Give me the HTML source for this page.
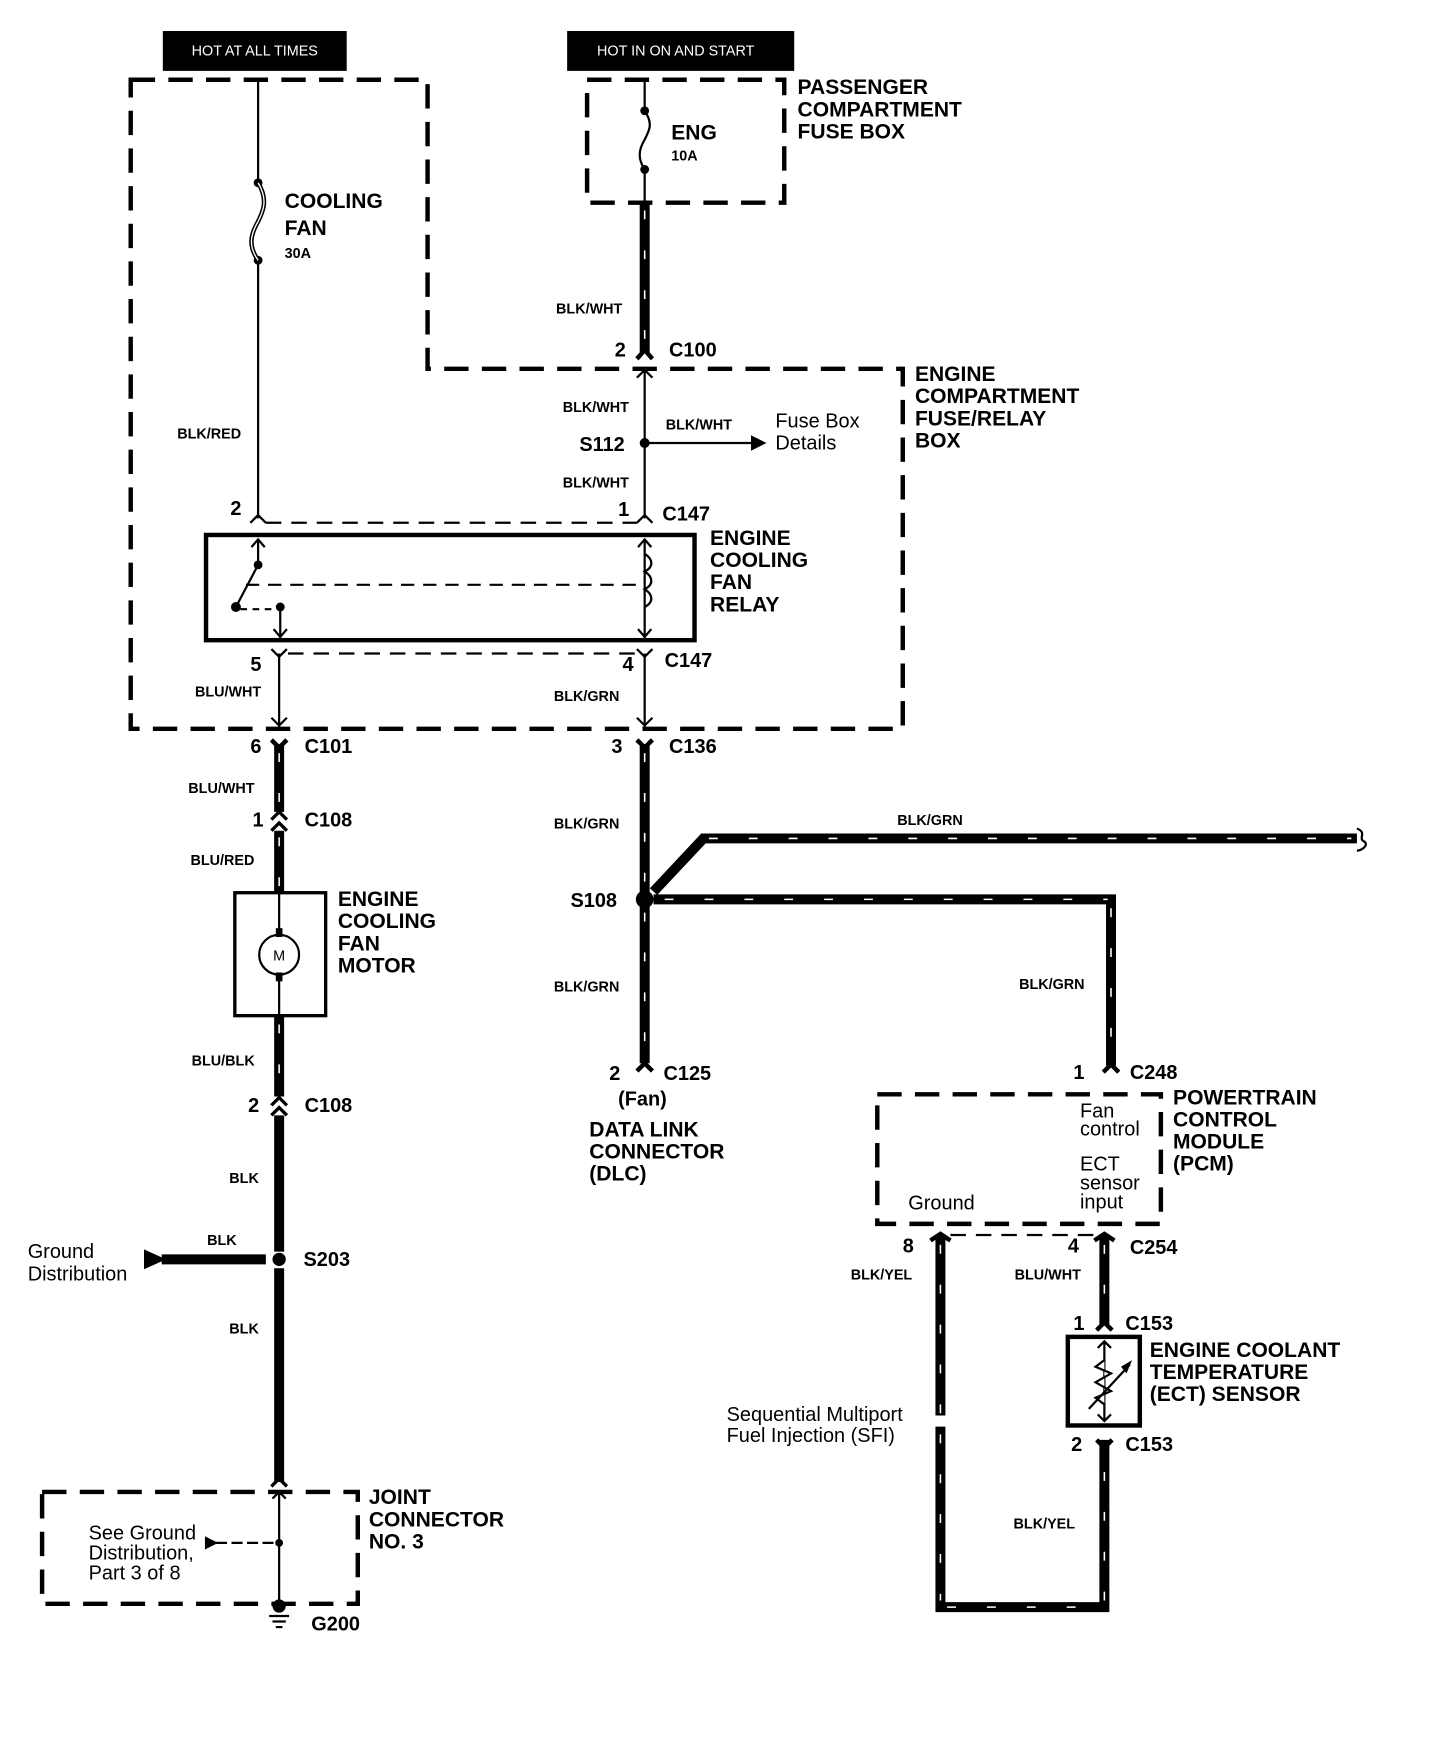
<!DOCTYPE html>
<html><head><meta charset="utf-8"><style>
html,body{margin:0;padding:0;background:#fff;}
svg{display:block;}
text{font-family:"Liberation Sans",Arial,sans-serif;fill:#000;}
.b{font-weight:bold;}
.t{font-size:19px;font-weight:bold;}
.w{font-size:13px;font-weight:bold;}
.n{font-size:18px;font-weight:bold;}
.r{font-size:18px;}
.dash{fill:none;stroke:#000;stroke-width:4;stroke-dasharray:22 12;}
.dl{fill:none;stroke:#000;stroke-width:2;stroke-dasharray:14 9;}
.thin{fill:none;stroke:#000;stroke-width:2;}
.tw{fill:none;stroke:#000;stroke-width:9;}
.twd{fill:none;stroke:#fff;stroke-width:1.4;stroke-dasharray:8 28;}
</style></head><body>
<svg width="1440" height="1750" viewBox="0 0 1300 1580" preserveAspectRatio="none" xmlns="http://www.w3.org/2000/svg">
<!-- power labels -->
<rect x="147" y="28" width="166" height="36" fill="#000"/>
<text x="230" y="50" font-size="13" text-anchor="middle" style="fill:#fff">HOT AT ALL TIMES</text>
<rect x="512" y="28" width="205" height="36" fill="#000"/>
<text x="610" y="50" font-size="13" text-anchor="middle" style="fill:#fff">HOT IN ON AND START</text>

<!-- big dashed box -->
<path class="dash" d="M118 72 H386 V333 H815 V658 H118 Z"/>
<!-- passenger box -->
<path class="dash" d="M530 72 H708 V183 H530 Z"/>
<text class="t" x="720" y="85">PASSENGER</text>
<text class="t" x="720" y="105">COMPARTMENT</text>
<text class="t" x="720" y="125">FUSE BOX</text>
<text class="t" x="826" y="344">ENGINE</text>
<text class="t" x="826" y="364">COMPARTMENT</text>
<text class="t" x="826" y="384">FUSE/RELAY</text>
<text class="t" x="826" y="404">BOX</text>

<!-- cooling fan fuse wire -->
<path class="thin" d="M233 72 V165 M233 235 V468"/>
<circle cx="233" cy="165" r="4"/><circle cx="233" cy="235" r="4"/>
<path d="M233 165 C242 180 238 190 233 200 C226 212 224 222 233 235" fill="none" stroke="#000" stroke-width="4"/>
<path d="M233 165 C242 180 238 190 233 200 C226 212 224 222 233 235" fill="none" stroke="#fff" stroke-width="1.2"/>
<text class="t" x="257" y="188">COOLING</text>
<text class="t" x="257" y="212">FAN</text>
<text class="w" x="257" y="233">30A</text>
<text class="w" x="160" y="396">BLK/RED</text>

<!-- ENG fuse -->
<path class="thin" d="M582 72 V100 M582 153 V183"/>
<circle cx="582" cy="100" r="4"/><circle cx="582" cy="153" r="4"/>
<path d="M582 100 C590 112 586 118 582 126 C576 136 576 144 582 153" class="thin"/>
<text class="t" x="606" y="126">ENG</text>
<text class="w" x="606" y="145">10A</text>
<path class="tw" d="M582 183 V318"/><path class="twd" d="M582 190 V318"/>
<text class="w" x="502" y="283">BLK/WHT</text>
<path d="M575 324 L582 316 L589 324" fill="none" stroke="#000" stroke-width="4"/>
<text class="n" x="555" y="322">2</text><text class="n" x="604" y="322">C100</text>
<path class="thin" d="M582 333 V468"/>
<path d="M575 341 L582 334 L589 341" class="thin"/>
<text class="w" x="508" y="372">BLK/WHT</text>
<circle cx="582" cy="400" r="4.5"/>
<text class="n" x="523" y="407">S112</text>
<path class="thin" d="M582 400 H680"/><path d="M678 393 L692 400 L678 407 Z"/>
<text class="w" x="601" y="388">BLK/WHT</text>
<text class="r" x="700" y="386">Fuse Box</text>
<text class="r" x="700" y="406">Details</text>
<text class="w" x="508" y="440">BLK/WHT</text>

<!-- C147 top -->
<text class="n" x="208" y="465">2</text><text class="n" x="558" y="466">1</text><text class="n" x="598" y="470">C147</text>
<path d="M226 472 L233 465 L240 472" class="thin"/><path d="M575 472 L582 465 L589 472" class="thin"/>
<path class="dl" d="M240 472 H575"/>

<!-- relay box -->
<rect x="186" y="483" width="441" height="95" fill="none" stroke="#000" stroke-width="4"/>
<text class="t" x="641" y="492">ENGINE</text>
<text class="t" x="641" y="512">COOLING</text>
<text class="t" x="641" y="532">FAN</text>
<text class="t" x="641" y="552">RELAY</text>
<path class="thin" d="M233 488 V510 L213 548"/>
<path d="M227 494 L233 487 L239 494" class="thin"/>
<circle cx="233" cy="510" r="4"/><circle cx="213" cy="548" r="4.5"/><circle cx="253" cy="548" r="4"/>
<path class="dl" d="M222 528 H580" style="stroke-dasharray:12 8"/>
<path class="dl" d="M217 550 H250" style="stroke-dasharray:6 5"/>
<path class="thin" d="M253 548 V576 M247 568 L253 575 L259 568"/>
<path class="thin" d="M582 488 V576 M576 494 L582 487 L588 494 M576 568 L582 575 L588 568"/>
<path d="M582 500 C590 505 590 512 582 516 C590 521 590 528 582 532 C590 537 590 544 582 548" class="thin"/>

<!-- C147 bottom -->
<path class="dl" d="M260 590 H574"/>
<path d="M245 586 L252 593 L259 586" class="thin"/><path d="M575 586 L582 593 L589 586" class="thin"/>
<text class="n" x="226" y="606">5</text><text class="n" x="562" y="606">4</text><text class="n" x="600" y="602">C147</text>
<path class="thin" d="M252 590 V656 M582 590 V656"/>
<path class="thin" d="M245 648 L252 655 L259 648 M575 648 L582 655 L589 648"/>
<text class="w" x="176" y="629">BLU/WHT</text>
<text class="w" x="500" y="633">BLK/GRN</text>

<!-- left thick wire -->
<path d="M245 668 L252 675 L259 668" fill="none" stroke="#000" stroke-width="4"/>
<path class="tw" d="M252 672 V733 M252 750 V806 M252 917 V990 M252 1007 V1130 M252 1145 V1338"/>
<path class="twd" d="M252 680 V733 M252 756 V806 M252 925 V990"/>
<text class="n" x="226" y="680">6</text><text class="n" x="275" y="680">C101</text>
<text class="w" x="170" y="716">BLU/WHT</text>
<path d="M245 740 L252 733 L259 740 M245 750 L252 743 L259 750" fill="none" stroke="#000" stroke-width="3"/>
<text class="n" x="228" y="746">1</text><text class="n" x="275" y="746">C108</text>
<text class="w" x="172" y="781">BLU/RED</text>
<rect x="212" y="806" width="82" height="111" fill="none" stroke="#000" stroke-width="3"/>
<path class="thin" d="M252 806 V917"/>
<circle cx="252" cy="862" r="18" fill="#fff" stroke="#000" stroke-width="2"/>
<text x="252" y="867" font-size="13" text-anchor="middle">M</text>
<rect x="249" y="838" width="6" height="8"/><rect x="249" y="878" width="6" height="8"/>
<text class="t" x="305" y="818">ENGINE</text>
<text class="t" x="305" y="838">COOLING</text>
<text class="t" x="305" y="858">FAN</text>
<text class="t" x="305" y="878">MOTOR</text>
<text class="w" x="173" y="962">BLU/BLK</text>
<path d="M245 998 L252 991 L259 998 M245 1007 L252 1000 L259 1007" fill="none" stroke="#000" stroke-width="3"/>
<text class="n" x="224" y="1004">2</text><text class="n" x="275" y="1004">C108</text>
<text class="w" x="207" y="1068">BLK</text>
<text class="w" x="187" y="1124">BLK</text>
<circle cx="252" cy="1137" r="6"/>
<text class="n" x="274" y="1143">S203</text>
<path class="tw" d="M146 1137 H240"/><path d="M130 1128 L150 1137 L130 1146 Z"/>
<text class="r" x="25" y="1136">Ground</text>
<text class="r" x="25" y="1156">Distribution</text>
<text class="w" x="207" y="1204">BLK</text>
<path d="M245 1342 L252 1335 L259 1342" fill="none" stroke="#000" stroke-width="3"/>

<!-- joint connector -->
<path class="dash" d="M38 1347 H323 V1448 H38 Z"/>
<path class="thin" d="M252 1347 V1448 M246 1353 L252 1347 L258 1353"/>
<circle cx="252" cy="1393" r="3.5"/>
<path class="thin" d="M195 1393 H252" style="stroke-dasharray:10 4"/>
<path d="M185 1387 L197 1393 L185 1399 Z"/>
<text class="r" x="80" y="1390">See Ground</text>
<text class="r" x="80" y="1408">Distribution,</text>
<text class="r" x="80" y="1426">Part 3 of 8</text>
<circle cx="252" cy="1450" r="6"/>
<path class="thin" d="M243 1459 H261 M246 1464 H258 M249 1469 H255"/>
<text class="t" x="333" y="1358">JOINT</text>
<text class="t" x="333" y="1378">CONNECTOR</text>
<text class="t" x="333" y="1398">NO. 3</text>
<text class="n" x="281" y="1472">G200</text>

<!-- middle thick wire -->
<path d="M575 668 L582 675 L589 668" fill="none" stroke="#000" stroke-width="4"/>
<path class="tw" d="M582 672 V960"/><path class="twd" d="M582 680 V960"/>
<text class="n" x="552" y="680">3</text><text class="n" x="604" y="680">C136</text>
<text class="w" x="500" y="748">BLK/GRN</text>
<circle cx="582" cy="812" r="8"/>
<text class="n" x="515" y="819">S108</text>
<text class="w" x="500" y="895">BLK/GRN</text>
<path d="M575 967 L582 960 L589 967" fill="none" stroke="#000" stroke-width="4"/>
<text class="n" x="550" y="975">2</text><text class="n" x="599" y="975">C125</text>
<text class="n" x="558" y="998" style="font-weight:bold">(Fan)</text>
<text class="t" x="532" y="1026">DATA LINK</text>
<text class="t" x="532" y="1046">CONNECTOR</text>
<text class="t" x="532" y="1066">(DLC)</text>

<!-- branches -->
<path class="tw" d="M590 805 L635 757 H1225"/><path class="twd" d="M640 757 H1220"/>
<path d="M1225 748 C1235 752 1225 757 1232 760 C1236 764 1228 768 1225 768" class="thin"/>
<text class="w" x="810" y="745">BLK/GRN</text>
<path class="tw" d="M590 812 H1003 V962"/><path class="twd" d="M600 812 H1000 M1003 820 V962"/>
<text class="w" x="920" y="893">BLK/GRN</text>
<path d="M996 968 L1003 961 L1010 968" fill="none" stroke="#000" stroke-width="4"/>
<text class="n" x="969" y="974">1</text><text class="n" x="1020" y="974">C248</text>

<!-- PCM -->
<path class="dash" d="M792 988 H1048 V1105 H792 Z"/>
<text class="r" x="975" y="1009">Fan</text>
<text class="r" x="975" y="1025">control</text>
<text class="r" x="975" y="1057">ECT</text>
<text class="r" x="975" y="1074">sensor</text>
<text class="r" x="975" y="1091">input</text>
<text class="r" x="820" y="1092">Ground</text>
<text class="t" x="1059" y="997">POWERTRAIN</text>
<text class="t" x="1059" y="1017">CONTROL</text>
<text class="t" x="1059" y="1037">MODULE</text>
<text class="t" x="1059" y="1057">(PCM)</text>
<path class="dl" d="M858 1115 H990"/>
<path d="M840 1120 L849 1114 L858 1120 M988 1120 L997 1114 L1006 1120" fill="none" stroke="#000" stroke-width="4"/>
<text class="n" x="815" y="1131">8</text><text class="n" x="964" y="1131">4</text><text class="n" x="1020" y="1132">C254</text>
<text class="w" x="768" y="1155">BLK/YEL</text>
<text class="w" x="916" y="1155">BLU/WHT</text>
<path class="tw" d="M849 1116 V1278 M849 1288 V1451 H997 V1300"/>
<path class="twd" d="M849 1124 V1278 M849 1295 V1445 M855 1451 H990 M997 1445 V1305"/>
<path class="tw" d="M997 1116 V1196"/><path class="twd" d="M997 1124 V1196"/>
<path d="M990 1201 L997 1194 L1004 1201" fill="none" stroke="#000" stroke-width="4"/>
<text class="n" x="969" y="1201">1</text><text class="n" x="1016" y="1201">C153</text>
<rect x="964" y="1207" width="65" height="80" fill="none" stroke="#000" stroke-width="4"/>
<path class="thin" d="M997 1211 V1283 M991 1217 L997 1211 L1003 1217 M991 1277 L997 1283 L1003 1277"/>
<path d="M997 1228 L989 1234 L1003 1240 L989 1248 L1003 1256 L989 1262 L997 1268" fill="#fff" stroke="#000" stroke-width="2"/>
<path class="thin" d="M983 1272 L1020 1232"/><path d="M1022 1228 L1012 1234 L1017 1240 Z"/>
<path d="M990 1300 L997 1307 L1004 1300" fill="none" stroke="#000" stroke-width="4"/>
<text class="n" x="967" y="1310">2</text><text class="n" x="1016" y="1310">C153</text>
<text class="t" x="1038" y="1225">ENGINE COOLANT</text>
<text class="t" x="1038" y="1245">TEMPERATURE</text>
<text class="t" x="1038" y="1265">(ECT) SENSOR</text>
<text class="w" x="915" y="1380">BLK/YEL</text>
<text class="r" x="656" y="1283">Sequential Multiport</text>
<text class="r" x="656" y="1302">Fuel Injection (SFI)</text>
</svg>
</body></html>
